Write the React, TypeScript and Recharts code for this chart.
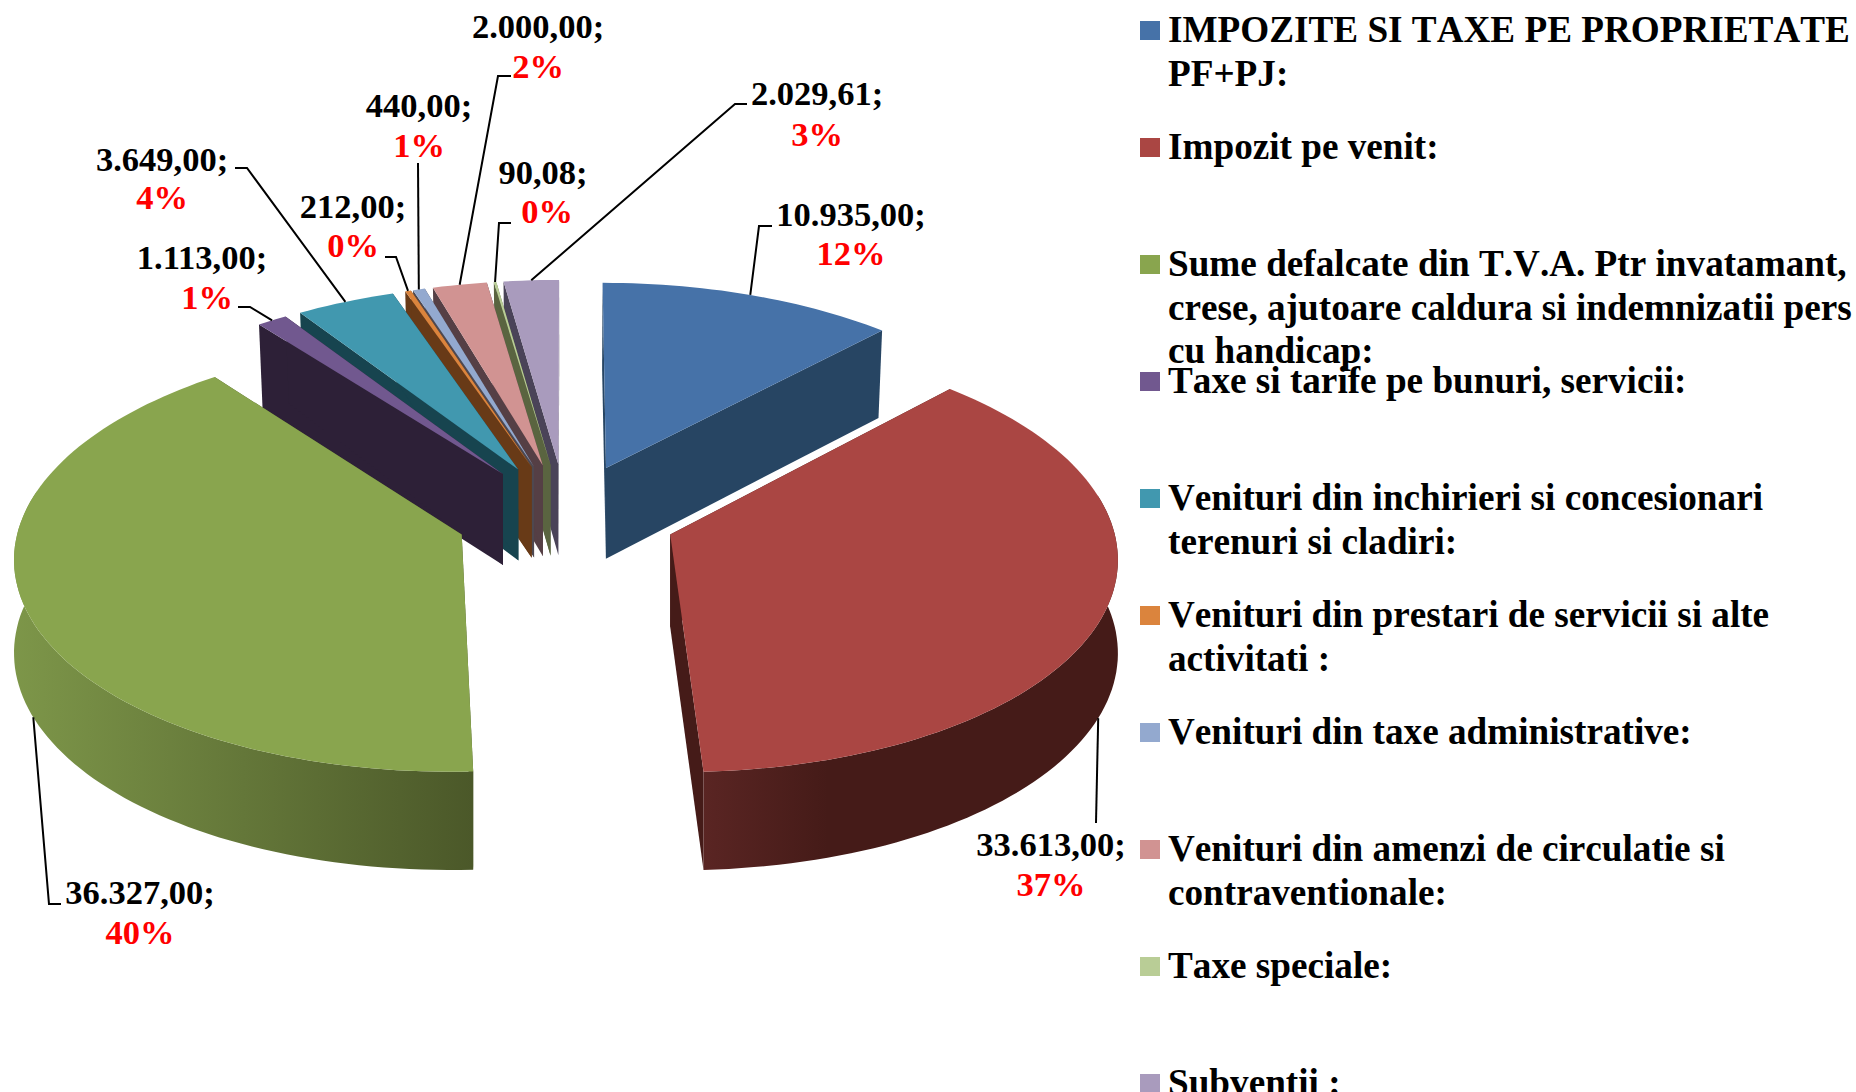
import { Legend, Pie, PieChart } from "recharts";

const categories = [
  "IMPOZITE SI TAXE PE PROPRIETATE PF+PJ:",
  "Impozit pe venit:",
  "Sume defalcate din T.V.A. Ptr invatamant, crese, ajutoare caldura si indemnizatii pers cu handicap:",
  "Taxe si tarife pe bunuri, servicii:",
  "Venituri din inchirieri si concesionari terenuri si cladiri:",
  "Venituri din prestari de servicii si alte activitati :",
  "Venituri din taxe administrative:",
  "Venituri din amenzi de circulatie si contraventionale:",
  "Taxe speciale:",
  "Subventii :",
];
const legendLines = [
  ["IMPOZITE SI TAXE PE PROPRIETATE", "PF+PJ:"],
  ["Impozit pe venit:"],
  ["Sume defalcate din T.V.A. Ptr invatamant,", "crese, ajutoare caldura si indemnizatii pers", "cu handicap:"],
  ["Taxe si tarife pe bunuri, servicii:"],
  ["Venituri din inchirieri si concesionari", "terenuri si cladiri:"],
  ["Venituri din prestari de servicii si alte", "activitati :"],
  ["Venituri din taxe administrative:"],
  ["Venituri din amenzi de circulatie si", "contraventionale:"],
  ["Taxe speciale:"],
  ["Subventii :"],
];
const values = [10935, 33613, 36327, 1113, 3649, 212, 440, 2000, 90.08, 2029.61];
const percentLabels = ["12%", "37%", "40%", "1%", "4%", "0%", "1%", "2%", "0%", "3%"];

const topColors = ["#4672A8", "#AA4643", "#89A54E", "#71588F", "#4198AF", "#DB843D", "#93A9CF", "#D19392", "#B9CD96", "#A99BBD"];
const wallLeft = ["#274563", "#5A2523", "#7D9649", "#2D2037", "#17444F", "#683A17", "#4E4850", "#553F45", "#5A6440", "#4A4358"];
const wallRight = ["#274563", "#451B18", "#4B5829", "#2D2037", "#17444F", "#683A17", "#4E4850", "#553F45", "#5A6440", "#4A4358"];

// where each data label sits: value text, percent text, leader elbow and end
const labelLayout: any[] = [
  { vx: 851, vy: 226, px: 851, py: 265, via: [[759, 226], [772, 226]] },
  { vx: 1051, vy: 856, px: 1051, py: 896, via: [[1096, 823]], onBottom: true, lean: 3 },
  { vx: 140, vy: 904, px: 140, py: 944, via: [[49, 904], [61, 904]], onBottom: true, lean: -3 },
  { vx: 202, vy: 269, px: 207, py: 309, via: [[250, 307], [238, 307]] },
  { vx: 162, vy: 171, px: 162, py: 209, via: [[247, 168], [235, 168]] },
  { vx: 353, vy: 218, px: 353, py: 257, via: [[396, 257], [385, 257]] },
  { vx: 419, vy: 117, px: 419, py: 157, via: [[418, 163]] },
  { vx: 538, vy: 38, px: 538, py: 78, via: [[498, 76], [511, 76]] },
  { vx: 543, vy: 184, px: 547, py: 223, via: [[499, 223], [511, 223]] },
  { vx: 817, vy: 105, px: 817, py: 146, via: [[735, 104], [747, 104]] },
];

const SERIF = '"Liberation Serif", "Times New Roman", serif';
const PERSPECTIVE = 10.6;
const SQUASH = 0.479;
const EXPLODE = 0.25;
const DEPTH = 92;

// the slices are fed to the Pie back to front so later ones paint over earlier ones
const pieData = categories
  .map((name, idx) => ({ name, value: values[idx], idx }))
  .reverse();

const rad = (d: number) => (d * Math.PI) / 180;

function sliceAngles(startAngle: number, endAngle: number) {
  let a = 90 - endAngle;
  let b = 90 - startAngle;
  while (a < 0) {
    a += 360;
    b += 360;
  }
  return { a, b, mid: (a + b) / 2 };
}

function project(cx: number, cy: number, R: number, theta: number, mid: number, r: number) {
  const X = r * Math.sin(rad(theta)) + EXPLODE * Math.sin(rad(mid));
  const Z = r * Math.cos(rad(theta)) + EXPLODE * Math.cos(rad(mid));
  const s = PERSPECTIVE / (PERSPECTIVE + Z);
  return { x: cx + R * X * s, y: cy - R * SQUASH * Z * s, s };
}

function lower(cx: number, p: { x: number; y: number; s: number }) {
  const lean = p.s < 1 ? 1 - (1 - p.s) * 0.14 : 1;
  return { x: cx + (p.x - cx) * lean, y: p.y + DEPTH * Math.pow(p.s, 0.6) };
}

const toPath = (pts: { x: number; y: number }[]) =>
  "M" + pts.map((p) => `${p.x.toFixed(1)},${p.y.toFixed(1)}`).join("L") + "Z";

function SliceShape(props: any) {
  const { cx, cy, outerRadius, startAngle, endAngle, payload } = props;
  const idx = payload?.idx ?? props.idx;
  const { a, b, mid } = sliceAngles(startAngle, endAngle);
  const steps = Math.max(2, Math.ceil((b - a) / 1.5));
  const rim = Array.from({ length: steps + 1 }, (_, i) =>
    project(cx, cy, outerRadius, a + ((b - a) * i) / steps, mid, 1)
  );
  const apex = project(cx, cy, outerRadius, 0, mid, 0);
  const face = (p: any) => toPath([apex, p, lower(cx, p), lower(cx, apex)]);

  const front: any[] = [];
  for (let i = 0; i <= steps; i++) {
    const t = a + ((b - a) * i) / steps;
    if (t >= 78 && t <= 282) front.push(rim[i]);
  }
  const gradId = `wall-${idx}`;
  const fx = front.map((p) => p.x);
  return (
    <g>
      {front.length > 1 && (
        <defs>
          <linearGradient id={gradId} gradientUnits="userSpaceOnUse" x1={Math.min(...fx)} x2={Math.max(...fx)} y1={0} y2={0}>
            <stop offset="0" stopColor={wallLeft[idx]} />
            <stop offset={idx === 1 ? "0.3" : "1"} stopColor={wallRight[idx]} />
          </linearGradient>
        </defs>
      )}
      <path d={face(rim[0])} fill={wallRight[idx]} />
      <path d={face(rim[steps])} fill={wallRight[idx]} />
      {front.length > 1 && (
        <path d={toPath([...front, ...front.map((p) => lower(cx, p)).reverse()])} fill={`url(#${gradId})`} />
      )}
      <path d={toPath([apex, ...rim])} fill={topColors[idx]} />
    </g>
  );
}

function SliceLabel(props: any) {
  const { cx, cy, outerRadius, startAngle, endAngle, index } = props;
  const idx = categories.length - 1 - index;
  const { mid } = sliceAngles(startAngle, endAngle);
  const layout = labelLayout[idx];
  const rimPoint = project(cx, cy, outerRadius, mid + (layout.lean ?? 0), mid, 1);
  const start = layout.onBottom ? lower(cx, rimPoint) : rimPoint;
  const valueText = values[idx].toLocaleString("ro-RO", { minimumFractionDigits: 2, maximumFractionDigits: 2 }) + ";";
  return (
    <g fontFamily={SERIF} fontWeight="bold" fontSize={34.5} textAnchor="middle">
      <polyline
        points={[[start.x, start.y], ...layout.via].map((p: number[]) => p.join(",")).join(" ")}
        fill="none"
        stroke="#000"
        strokeWidth={2}
      />
      <text x={layout.vx} y={layout.vy} fill="#000">
        {valueText}
      </text>
      <text x={layout.px} y={layout.py} fill="#FF0000">
        {percentLabels[idx]}
      </text>
    </g>
  );
}

function ChartLegend() {
  return (
    <div style={{ position: "relative", width: 1856, height: 1092, fontFamily: SERIF, fontWeight: "bold", fontSize: 37.2, fontKerning: "none", lineHeight: "43.5px", color: "#000" }}>
      {legendLines.map((lines, i) => (
        <div key={i} style={{ position: "absolute", left: 1168, top: 8 + i * 117, whiteSpace: "nowrap" }}>
          <span style={{ position: "absolute", left: -28, top: 13, width: 20, height: 19, backgroundColor: topColors[i] }} />
          {lines.map((line) => (
            <div key={line}>{line}</div>
          ))}
        </div>
      ))}
    </div>
  );
}

export default function App() {
  return (
    <div style={{ position: "absolute", left: 0, top: 0, width: 1856, height: 1092, overflow: "hidden", background: "#fff" }}>
      <PieChart width={1856} height={1092} margin={{ top: 0, right: 0, bottom: 0, left: 0 }}>
        <Pie
          data={pieData}
          dataKey="value"
          nameKey="name"
          cx={566}
          cy={516}
          innerRadius={0}
          outerRadius={441}
          startAngle={90}
          endAngle={450}
          stroke="none"
          shape={SliceShape}
          inactiveShape={SliceShape}
          label={SliceLabel}
          labelLine={false}
          isAnimationActive={false}
        />
        <Legend
          layout="vertical"
          align="right"
          verticalAlign="top"
          content={ChartLegend}
          wrapperStyle={{ position: "absolute", left: 0, top: 0, width: 0, height: 0 }}
        />
      </PieChart>
    </div>
  );
}
